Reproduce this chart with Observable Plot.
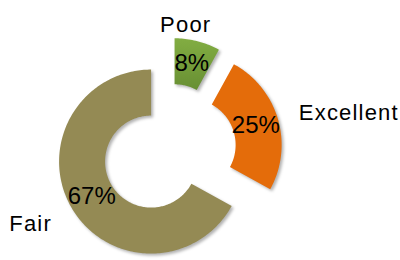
<!DOCTYPE html>
<html><head><meta charset="utf-8">
<script src="https://cdn.jsdelivr.net/npm/d3@7"></script>
<script src="https://cdn.jsdelivr.net/npm/@observablehq/plot@0.6"></script>
<style>body{margin:0;background:#fff} svg{display:block}</style>
</head><body><div id="chart"></div><script>
const categories = ["Poor", "Excellent", "Fair"];
const values = [8, 25, 67];
const percentLabels = ["8%", "25%", "67%"];
const colors = ["url(#poorGrad)", "#e46c0a", "#948a54"];

const W = 400, H = 260, R = 92, CX = 168.8, CY = 150.3;
const inner = 0.5, explode = 0.23;

const pie = d3.pie().sort(null)(values);
const arcs = pie.map((p, i) => {
  const mid = (p.startAngle + p.endAngle) / 2;
  return {cat: categories[i], label: percentLabels[i], start: p.startAngle, end: p.endAngle, mid,
          ox: explode * Math.sin(mid), oy: explode * Math.cos(mid)};
});
const pts = [];
for (const a of arcs) {
  const n = Math.max(8, Math.ceil((a.end - a.start) / 0.02));
  for (let k = 0; k <= n; k++) {
    const t = a.start + (a.end - a.start) * k / n;
    pts.push({cat: a.cat, x: a.ox + Math.sin(t), y: a.oy + Math.cos(t)});
  }
  for (let k = n; k >= 0; k--) {
    const t = a.start + (a.end - a.start) * k / n;
    pts.push({cat: a.cat, x: a.ox + inner * Math.sin(t), y: a.oy + inner * Math.cos(t)});
  }
}
const pctPos = arcs.map(a => ({label: a.label, x: a.ox + 0.75 * Math.sin(a.mid), y: a.oy + 0.75 * Math.cos(a.mid)}));
const catPos = arcs.map(a => ({cat: a.cat, x: a.ox + 1.1 * Math.sin(a.mid), y: a.oy + 1.1 * Math.cos(a.mid)}));

const catStyle = {
  Poor: {textAnchor: "middle", dx: -14, dy: -7},
  Excellent: {textAnchor: "start", dx: 12, dy: -4},
  Fair: {textAnchor: "end", dx: -12, dy: 11}
};

const chart = Plot.plot({
  width: W, height: H, margin: 0,
  x: {domain: [-CX / R, (W - CX) / R], axis: null},
  y: {domain: [-(H - CY) / R, CY / R], axis: null},
  color: {type: "ordinal", domain: categories, range: colors},
  style: {fontFamily: "'Liberation Sans', Arial, sans-serif", background: "white"},
  marks: [
    Plot.line(pts, {x: "x", y: "y", z: "cat", fill: "cat", stroke: null, curve: "linear"}),
    Plot.text(pctPos, {x: "x", y: "y", text: "label", fontSize: 24, fill: "#000"}),
    ...categories.map(c => Plot.text(catPos.filter(d => d.cat === c), {
      x: "x", y: "y", text: "cat", fontSize: 22, fill: "#000", ...catStyle[c]
    }))
  ]
});
document.getElementById("chart").append(chart);

const svg = d3.select(chart);
const defs = svg.insert("defs", ":first-child");
const g = defs.append("linearGradient").attr("id", "poorGrad").attr("x1", 0).attr("y1", 0).attr("x2", 0).attr("y2", 1);
g.append("stop").attr("offset", "0%").attr("stop-color", "#82ad42");
g.append("stop").attr("offset", "100%").attr("stop-color", "#688f33");
svg.select("g[aria-label=line]").style("filter", "drop-shadow(2px 2px 1.5px rgba(0,0,0,0.3))");
svg.selectAll("g[aria-label=text]").filter((d, i) => i > 0).style("letter-spacing", "1.2px");
</script></body></html>
